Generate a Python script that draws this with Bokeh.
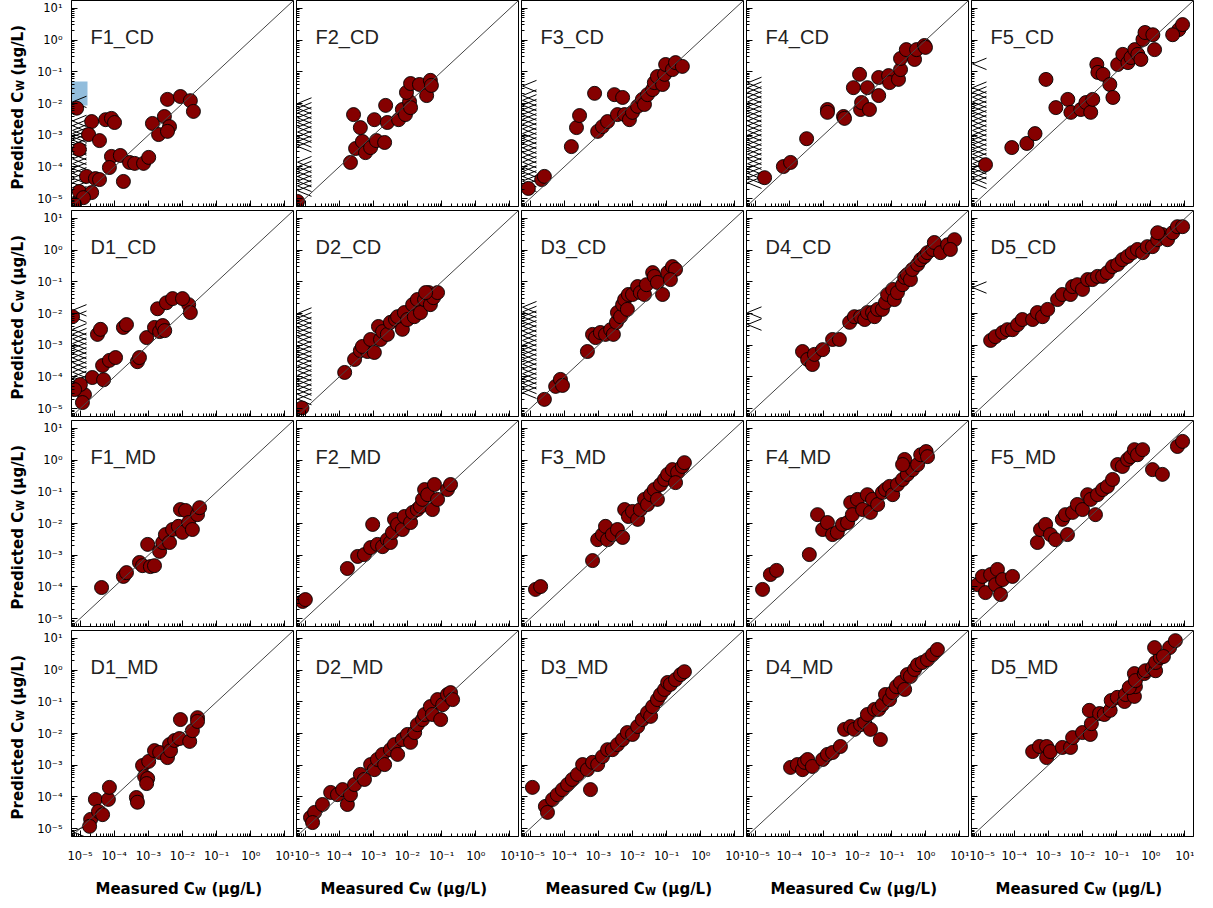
import numpy as np
from bokeh.plotting import figure
from bokeh.layouts import gridplot
from bokeh.models import Range1d, FixedTicker, CustomJSTickFormatter, Label
from bokeh.embed import file_html
from bokeh.resources import INLINE

# ---------------- data (log10 of concentrations, ug/L) ----------------
row_names = [["F1_CD", "F2_CD", "F3_CD", "F4_CD", "F5_CD"],
             ["D1_CD", "D2_CD", "D3_CD", "D4_CD", "D5_CD"],
             ["F1_MD", "F2_MD", "F3_MD", "F4_MD", "F5_MD"],
             ["D1_MD", "D2_MD", "D3_MD", "D4_MD", "D5_MD"]]

major_ticks = [1e-5, 1e-4, 1e-3, 1e-2, 1e-1, 1e0, 1e1]

F1_CD_meas = [-5.10, -4.66, -4.25, -4.08, -3.99, -4.75, -4.43, -5.02, -4.08, -3.82, -4.14, -3.55, -3.40, -3.14, -2.99, -3.73,
              -4.81, -4.55, -4.43, -5.02, -4.66, -4.90, -5.16, -2.88, -2.70, -2.53, -2.44, -2.38, -2.44, -2.06, -1.77, -1.68]
F1_CD_pred = [-2.15, -2.57, -2.51, -2.47, -2.60, -2.98, -3.17, -3.45, -3.67, -3.64, -4.02, -3.86, -3.89, -3.89, -3.70, -4.46,
              -4.30, -4.37, -4.40, -4.78, -4.81, -4.97, -5.19, -2.63, -2.98, -2.41, -1.87, -2.73, -2.88, -1.78, -1.91, -2.25]
F1_CD_cens = [-1.95, -2.55, -2.7, -2.85, -2.95, -3.05, -3.15, -3.3, -3.45, -3.6, -3.75, -3.9, -4.05, -4.2, -4.35, -4.5, -4.65, -4.8, -4.95]

F2_CD_meas = [-3.67, -3.58, -3.38, -3.52, -3.32, -3.23, -3.08, -2.97, -2.91, -2.67, -2.64, -2.59, -2.26, -2.15, -2.06, -1.94,
              -1.91, -2.03, -1.91, -1.65, -1.44, -1.33, -1.30, -5.22]
F2_CD_pred = [-3.86, -2.35, -2.76, -3.42, -3.20, -3.55, -3.39, -2.51, -3.17, -3.23, -2.06, -2.60, -2.51, -2.19, -2.35, -1.94,
              -2.13, -1.65, -1.37, -1.40, -1.75, -1.27, -1.43, -5.09]
F2_CD_cens = [-2.0, -2.15, -2.3, -2.45, -2.6, -2.75, -2.9, -3.05, -3.2, -3.35, -3.85, -4.0, -4.15, -4.3, -4.45, -4.6, -4.75]

F3_CD_meas = [-5.05, -4.66, -4.58, -3.79, -3.64, -3.55, -3.11, -3.02, -2.88, -2.73, -2.53, -2.44, -2.29, -2.23, -2.09, -2.00,
              -1.85, -1.71, -1.65, -1.56, -1.41, -1.36, -1.27, -1.12, -1.06, -1.03, -0.83, -0.74, -0.54]
F3_CD_pred = [-4.68, -4.40, -4.30, -3.36, -2.76, -2.38, -1.68, -2.88, -2.73, -2.57, -1.72, -2.35, -1.81, -2.35, -2.51, -2.28,
              -2.09, -1.87, -2.03, -1.72, -1.56, -1.34, -1.15, -1.40, -1.08, -0.77, -0.93, -0.71, -0.83]
F3_CD_cens = [-1.45, -1.75, -1.9, -2.05, -2.2, -2.35, -2.5, -2.65, -2.8, -2.95, -3.1, -3.25, -3.4, -3.55, -3.7, -3.85, -4.0,
              -4.15, -4.3, -4.45, -4.6]

F4_CD_meas = [-4.72, -4.17, -3.96, -3.49, -2.88, -2.88, -2.41, -2.38, -2.12, -1.94, -1.91, -1.88, -1.71, -1.65, -1.38, -1.38,
              -1.09, -1.06, -0.80, -0.74, -0.74, -0.57, -0.33, -0.27, -0.04, -0.01]
F4_CD_pred = [-4.34, -3.99, -3.86, -3.11, -2.19, -2.28, -2.41, -2.47, -1.50, -1.08, -2.19, -1.97, -1.50, -2.19, -1.75, -1.18,
              -1.12, -1.34, -1.24, -0.93, -0.58, -0.30, -0.61, -0.30, -0.17, -0.23]
F4_CD_cens = [-1.35, -1.5, -1.65, -1.8, -1.95, -2.1, -2.25, -2.4, -2.55, -2.7, -2.85, -3.0, -3.15, -3.3, -3.45, -3.6, -3.75,
              -3.9, -4.05, -4.2, -4.35, -4.5]

F5_CD_meas = [-4.84, -4.07, -3.63, -3.39, -3.07, -2.78, -2.43, -2.34, -2.05, -1.90, -1.76, -1.70, -1.58, -1.55, -1.40, -1.20,
              -1.11, -0.97, -0.82, -0.67, -0.58, -0.47, -0.38, -0.29, -0.23, -0.17, 0.06, 0.11, 0.82, 0.93, 0.64]
F5_CD_pred = [-3.93, -3.39, -3.26, -2.95, -1.24, -2.13, -1.87, -2.28, -2.19, -1.97, -2.28, -1.87, -0.77, -1.02, -1.08, -1.40,
              -1.81, -0.77, -0.45, -0.71, -0.55, -0.30, -0.45, -0.61, 0.02, 0.24, 0.17, -0.30, 0.33, 0.49, 0.17]
F5_CD_cens = [-0.75, -1.5, -1.65, -1.8, -1.95, -2.1, -2.25, -2.4, -2.55, -2.7, -2.85, -3.0, -3.15, -3.3, -3.45, -3.6, -3.75,
              -3.9, -4.05, -4.2, -4.35, -4.5]

D1_CD_meas = [-5.22, -4.49, -4.40, -3.73, -3.64, -4.64, -4.34, -4.14, -3.96, -4.31, -4.87, -4.99, -4.93, -5.16, -3.32, -3.26,
              -3.05, -2.82, -2.67, -2.58, -2.52, -2.73, -2.47, -2.29, -1.82, -1.77, -2.00]
D1_CD_pred = [-2.10, -2.66, -2.50, -2.44, -2.35, -4.02, -3.64, -3.48, -3.39, -4.09, -4.56, -4.24, -4.81, -4.40, -3.52, -3.39,
              -2.76, -2.44, -2.57, -2.38, -2.54, -1.85, -1.66, -1.53, -1.72, -1.97, -1.53]
D1_CD_cens = [-1.9, -2.1, -2.5, -2.65, -2.8, -2.95, -3.1, -3.25, -3.4, -3.55, -3.7, -3.85, -4.0, -4.15, -4.3]

D2_CD_meas = [-5.09, -3.84, -3.55, -3.38, -3.17, -3.32, -3.08, -2.97, -2.85, -2.79, -2.73, -2.59, -2.50, -2.35, -2.29, -2.15,
              -2.09, -2.00, -1.85, -1.80, -1.71, -1.62, -1.50, -1.38, -1.33, -1.24, -1.12, -1.47]
D2_CD_pred = [-4.98, -3.86, -3.45, -3.17, -3.20, -3.04, -2.82, -3.23, -2.41, -2.82, -2.57, -2.66, -2.28, -2.19, -2.10, -2.50,
              -1.97, -2.19, -1.72, -2.10, -1.56, -1.97, -1.56, -1.34, -1.72, -1.50, -1.34, -1.34]
D2_CD_cens = [-2.0, -2.15, -2.3, -2.45, -2.6, -2.75, -2.9, -3.05, -3.2, -3.35, -3.5, -3.65, -3.8, -3.95, -4.1, -4.25, -4.4,
              -4.55, -4.7]

D3_CD_meas = [-4.58, -4.25, -4.11, -4.05, -3.32, -3.17, -3.08, -2.94, -2.79, -2.64, -2.56, -2.47, -2.44, -2.35, -2.29, -2.23,
              -2.15, -2.12, -2.00, -1.85, -1.77, -1.65, -1.59, -1.41, -1.36, -1.27, -1.12, -0.97, -0.83, -0.74, -0.89]
D3_CD_pred = [-4.71, -4.30, -4.08, -4.27, -3.20, -2.66, -2.76, -2.60, -2.66, -2.51, -2.66, -2.28, -1.97, -2.10, -1.72, -1.56,
              -1.87, -1.40, -1.40, -1.15, -1.34, -1.40, -1.09, -0.71, -0.83, -1.02, -1.40, -0.71, -0.52, -0.61, -0.93]
D3_CD_cens = [-1.8, -1.95, -2.1, -2.25, -2.4, -2.55, -2.7, -2.85, -3.0, -3.15, -3.3, -3.45, -3.6, -3.75, -3.9, -4.05, -4.2,
              -4.35, -4.5]

D4_CD_meas = [-3.61, -3.46, -3.32, -3.26, -3.02, -2.73, -2.53, -2.23, -2.09, -1.91, -1.79, -1.71, -1.56, -1.50, -1.41, -1.27,
              -1.18, -1.12, -0.97, -0.92, -0.83, -0.68, -0.62, -0.54, -0.45, -0.39, -0.24, -0.15, -0.04, 0.05, 0.20, 0.25,
              0.43, 0.64, 0.84, 0.72]
D4_CD_pred = [-3.20, -3.45, -3.61, -3.29, -3.14, -2.82, -2.82, -2.28, -2.10, -2.10, -2.19, -1.97, -1.97, -2.10, -1.87, -1.87,
              -1.65, -1.40, -1.24, -1.56, -1.34, -1.09, -0.86, -0.77, -0.93, -0.61, -0.45, -0.30, -0.20, -0.08, 0.02, 0.24,
              -0.08, 0.17, 0.33, 0.02]
D4_CD_cens = [-1.97, -2.35]

D5_CD_meas = [-4.69, -4.55, -4.34, -4.20, -4.05, -3.90, -3.76, -3.46, -3.32, -3.17, -3.02, -2.73, -2.59, -2.35, -2.29, -2.15,
              -2.00, -1.85, -1.71, -1.56, -1.41, -1.27, -1.12, -0.97, -0.83, -0.68, -0.54, -0.39, -0.24, -0.10, 0.05, 0.20,
              0.34, 0.49, 0.64, 0.78, 0.93, 0.20]
D5_CD_pred = [-2.85, -2.73, -2.60, -2.51, -2.51, -2.35, -2.19, -2.19, -1.97, -2.10, -1.87, -1.56, -1.40, -1.40, -1.15, -1.09,
              -1.24, -0.93, -0.93, -0.83, -0.83, -0.71, -0.52, -0.45, -0.30, -0.20, -0.08, 0.02, -0.08, 0.11, 0.11, 0.33,
              0.49, 0.33, 0.55, 0.74, 0.74, 0.55]
D5_CD_cens = [-1.18]

F1_MD_meas = [-4.37, -3.73, -3.64, -3.26, -3.17, -3.02, -2.94, -2.82, -2.67, -2.58, -2.50, -2.38, -2.29, -2.12, -2.06, -1.91,
              -2.00, -1.82, -1.71, -1.56, -1.50]
F1_MD_pred = [-4.02, -3.67, -3.55, -3.23, -3.33, -2.66, -3.36, -3.33, -2.88, -2.60, -2.35, -2.60, -2.19, -2.09, -1.56, -1.59,
              -2.28, -1.97, -2.19, -1.72, -1.50]
F1_MD_cens = []

F2_MD_meas = [-5.07, -4.99, -3.76, -3.46, -3.26, -3.08, -3.02, -2.88, -2.73, -2.59, -2.50, -2.44, -2.38, -2.29, -2.15, -2.09,
              -1.91, -1.85, -1.71, -1.62, -1.56, -1.50, -1.41, -1.27, -1.21, -1.12, -0.83, -0.74]
F2_MD_pred = [-4.46, -4.40, -3.42, -3.04, -2.98, -2.76, -2.03, -2.66, -2.73, -2.51, -2.60, -2.28, -1.87, -2.03, -2.19, -1.78,
              -1.97, -1.65, -1.56, -1.46, -1.24, -0.93, -1.09, -1.56, -0.77, -1.24, -0.93, -0.77]
F2_MD_cens = []

F3_MD_meas = [-4.84, -4.69, -3.17, -3.02, -2.88, -2.79, -2.73, -2.59, -2.44, -2.29, -2.23, -2.12, -2.00, -1.85, -1.77, -1.65,
              -1.56, -1.47, -1.36, -1.27, -1.18, -1.06, -0.97, -0.83, -0.68, -0.54, -0.48, -0.74]
F3_MD_pred = [-4.08, -3.99, -3.17, -2.51, -2.35, -2.09, -2.51, -2.35, -2.19, -2.44, -1.56, -1.78, -1.62, -1.87, -1.56, -1.24,
              -1.40, -1.09, -0.93, -1.24, -0.77, -0.61, -0.45, -0.30, -0.39, -0.20, -0.08, -0.71]
F3_MD_cens = []

F4_MD_meas = [-4.78, -4.55, -4.37, -3.41, -3.17, -3.02, -2.88, -2.73, -2.59, -2.44, -2.29, -2.20, -2.15, -2.00, -1.85, -1.71,
              -1.62, -1.56, -1.41, -1.27, -1.18, -1.06, -0.97, -0.83, -0.68, -0.62, -0.54, -0.39, -0.24, -0.15, 0.01, 0.05, -0.68]
F4_MD_pred = [-4.08, -3.61, -3.48, -2.98, -1.72, -2.19, -1.97, -2.35, -2.28, -2.03, -1.97, -1.34, -1.72, -1.24, -1.56, -1.09,
              -1.65, -1.24, -1.40, -1.02, -0.93, -0.83, -1.09, -0.77, -0.61, 0.02, -0.45, -0.30, -0.14, 0.17, 0.27, 0.11, -0.14]
F4_MD_cens = []

F5_MD_meas = [-5.07, -4.93, -4.84, -4.69, -4.55, -4.40, -4.49, -4.34, -4.05, -3.32, -3.23, -3.08, -2.94, -2.79, -2.59, -2.50,
              -2.44, -2.29, -2.15, -2.00, -1.85, -1.76, -1.62, -1.56, -1.41, -1.27, -1.12, -0.97, -0.83, -0.68, -0.59, -0.48,
              -0.39, -0.24, 0.05, 0.34, 0.78, 0.93]
F5_MD_pred = [-3.93, -3.67, -4.18, -3.61, -3.93, -4.24, -3.45, -3.77, -3.67, -2.60, -2.19, -2.03, -2.35, -2.51, -1.87, -1.72,
              -2.35, -1.65, -1.40, -1.56, -1.09, -1.24, -1.72, -1.09, -0.93, -0.83, -0.61, -0.14, -0.20, 0.02, 0.11, 0.33,
              0.17, 0.33, -0.30, -0.45, 0.43, 0.59]
F5_MD_cens = []

D1_MD_meas = [-4.69, -4.72, -4.55, -4.46, -4.34, -4.17, -4.14, -3.35, -3.32, -3.17, -3.11, -3.02, -3.05, -2.99, -2.82, -2.67,
              -2.44, -2.38, -2.35, -2.23, -2.09, -2.06, -1.79, -1.71, -1.56, -1.56]
D1_MD_pred = [-4.71, -4.93, -4.08, -4.46, -4.56, -4.08, -3.70, -4.02, -4.17, -3.01, -3.36, -3.42, -3.58, -2.88, -2.54, -2.60,
              -2.76, -2.35, -2.54, -2.22, -2.16, -1.56, -2.25, -1.91, -1.50, -1.62]
D1_MD_cens = [-5.1]

D2_MD_meas = [-4.84, -4.72, -4.78, -4.49, -4.25, -4.05, -3.90, -3.76, -3.67, -3.55, -3.38, -3.26, -3.08, -2.97, -2.88, -2.73,
              -2.67, -2.50, -2.38, -2.29, -2.15, -2.00, -1.91, -1.79, -1.71, -1.56, -1.50, -1.33, -1.27, -1.12, -0.97, -0.83,
              -0.74, -0.68, -1.03]
D2_MD_pred = [-4.65, -4.49, -4.81, -4.24, -3.86, -3.93, -3.77, -4.24, -3.93, -3.61, -3.29, -3.45, -2.98, -3.14, -2.82, -2.66,
              -2.98, -2.51, -2.35, -2.66, -2.19, -2.03, -2.28, -1.97, -1.72, -1.56, -1.40, -1.15, -1.40, -0.93, -1.09, -0.77,
              -0.71, -0.93, -1.56]
D2_MD_cens = []

D3_MD_meas = [-4.93, -4.55, -4.49, -4.34, -4.20, -4.05, -3.90, -3.76, -3.61, -3.46, -3.32, -3.23, -3.17, -3.02, -2.88, -2.73,
              -2.59, -2.44, -2.29, -2.15, -2.00, -1.85, -1.71, -1.56, -1.47, -1.41, -1.27, -1.18, -1.06, -0.97, -0.89, -0.74,
              -0.59, -0.48]
D3_MD_pred = [-3.70, -4.30, -4.49, -4.08, -3.93, -3.77, -3.61, -3.45, -3.29, -2.98, -3.14, -3.77, -2.91, -2.98, -2.73, -2.51,
              -2.51, -2.35, -2.19, -1.97, -2.03, -1.78, -1.56, -1.34, -1.46, -1.15, -0.93, -0.77, -0.61, -0.39, -0.45, -0.30,
              -0.14, -0.05]
D3_MD_cens = []

D4_MD_meas = [-3.96, -3.76, -3.61, -3.55, -3.46, -3.32, -3.02, -2.88, -2.73, -2.50, -2.38, -2.20, -2.09, -1.91, -1.79, -1.71,
              -1.62, -1.50, -1.38, -1.27, -1.18, -1.06, -0.97, -0.86, -0.74, -0.62, -0.54, -0.45, -0.33, -0.24, -0.10, 0.05,
              0.20, 0.34, -1.33]
D4_MD_pred = [-3.07, -2.98, -3.14, -2.91, -2.82, -3.04, -2.82, -2.66, -2.60, -2.41, -1.87, -1.78, -1.87, -1.72, -1.65, -1.40,
              -1.87, -1.24, -1.24, -1.09, -0.77, -0.93, -0.71, -0.52, -0.39, -0.61, -0.14, -0.20, 0.02, 0.17, 0.24, 0.33,
              0.49, 0.65, -2.19]
D4_MD_cens = []

D5_MD_meas = [-3.46, -3.26, -3.05, -3.05, -2.94, -2.59, -2.35, -2.29, -2.00, -1.77, -1.74, -1.80, -1.50, -1.36, -1.19, -1.16,
              -0.98, -0.77, -0.74, -0.48, -0.45, -0.63, -0.48, -0.45, -0.19, -0.16, 0.05, 0.14, 0.14, 0.28, 0.11, 0.55, 0.72, 0.37]
D5_MD_pred = [-2.57, -2.41, -2.41, -2.76, -2.57, -2.44, -2.44, -2.13, -1.97, -2.03, -1.69, -1.27, -1.37, -1.40, -1.27, -0.96,
              -0.86, -0.99, -0.77, -0.83, -0.52, -0.55, -0.11, -0.33, -0.11, -0.02, 0.08, -0.02, 0.24, 0.40, 0.71, 0.71, 0.93, 0.43]
D5_MD_cens = []

panel_data = {
    "F1_CD": (F1_CD_meas, F1_CD_pred, F1_CD_cens), "F2_CD": (F2_CD_meas, F2_CD_pred, F2_CD_cens),
    "F3_CD": (F3_CD_meas, F3_CD_pred, F3_CD_cens), "F4_CD": (F4_CD_meas, F4_CD_pred, F4_CD_cens),
    "F5_CD": (F5_CD_meas, F5_CD_pred, F5_CD_cens),
    "D1_CD": (D1_CD_meas, D1_CD_pred, D1_CD_cens), "D2_CD": (D2_CD_meas, D2_CD_pred, D2_CD_cens),
    "D3_CD": (D3_CD_meas, D3_CD_pred, D3_CD_cens), "D4_CD": (D4_CD_meas, D4_CD_pred, D4_CD_cens),
    "D5_CD": (D5_CD_meas, D5_CD_pred, D5_CD_cens),
    "F1_MD": (F1_MD_meas, F1_MD_pred, F1_MD_cens), "F2_MD": (F2_MD_meas, F2_MD_pred, F2_MD_cens),
    "F3_MD": (F3_MD_meas, F3_MD_pred, F3_MD_cens), "F4_MD": (F4_MD_meas, F4_MD_pred, F4_MD_cens),
    "F5_MD": (F5_MD_meas, F5_MD_pred, F5_MD_cens),
    "D1_MD": (D1_MD_meas, D1_MD_pred, D1_MD_cens), "D2_MD": (D2_MD_meas, D2_MD_pred, D2_MD_cens),
    "D3_MD": (D3_MD_meas, D3_MD_pred, D3_MD_cens), "D4_MD": (D4_MD_meas, D4_MD_pred, D4_MD_cens),
    "D5_MD": (D5_MD_meas, D5_MD_pred, D5_MD_cens),
}

# ---------------- layout / style ----------------
LMIN, LMAX = -5.25, 1.25
FW, FH = 222, 206
PX_X = FW / (LMAX - LMIN)
PX_Y = FH / (LMAX - LMIN)
MID = (LMIN + LMAX) / 2
POINT_FILL = "#850000"
TITLE_FONT = "DejaVu Sans"
TITLE_W = 34          # width of the strip holding the y-axis titles
TITLE_H = 30          # height of the strip holding the x-axis titles
COL0_LEFT = 37        # left border of the first panel column (tick labels)
minor_ticks = [m * 10.0 ** k for k in range(-6, 2) for m in range(2, 10)]

tick_fmt_code = """
const sup = {"-": "\\u207b", "0": "\\u2070", "1": "\\u00b9", "2": "\\u00b2", "3": "\\u00b3",
             "4": "\\u2074", "5": "\\u2075", "6": "\\u2076", "7": "\\u2077", "8": "\\u2078", "9": "\\u2079"};
const e = Math.round(Math.log10(tick));
return "10" + String(e).split("").map(ch => sup[ch]).join("");
"""


def xpos(dx):
    return 10 ** (MID + dx / PX_X)


def ypos(dy):
    return 10 ** (MID + dy / PX_Y)


def title_label(text, x, y, size, angle=0.0):
    return Label(x=x, y=y, text=text, angle=angle,
                 text_font=TITLE_FONT, text_font_style="bold", text_font_size=size,
                 text_align="left", text_baseline="alphabetic", text_color="black")


def strip_fig(w, h, fw, fh, left=0, right=0, top=0, bottom=0):
    # blank figure whose frame (fw x fh) lines up with the neighbouring panels' frames
    f = figure(width=w, height=h, x_range=Range1d(0, fw), y_range=Range1d(0, fh),
               x_axis_location=None, y_axis_location=None,
               output_backend="svg", toolbar_location=None,
               min_border_left=left, min_border_right=right, min_border_top=top, min_border_bottom=bottom)
    f.outline_line_color = None
    f.grid.visible = False
    f.background_fill_color = "white"
    f.border_fill_color = "white"
    return f


grid_rows = []
for r in range(4):
    bottom = 32 if r == 3 else 4
    # left strip with the y-axis title of this row
    lt = strip_fig(TITLE_W, FH + bottom, TITLE_W, FH, bottom=bottom)
    cy = FH / 2
    lt.add_layout(title_label("Predicted C", 17, cy - 86, "15px", np.pi / 2))
    lt.add_layout(title_label("W", 20, cy + 12.5, "10px", np.pi / 2))
    lt.add_layout(title_label("(\u03bcg/L)", 17, cy + 28, "15px", np.pi / 2))
    row = [lt]
    for c in range(5):
        name = row_names[r][c]
        left = COL0_LEFT if c == 0 else 2
        p = figure(width=left + FW + 1, height=FH + bottom,
                   x_axis_type="log", y_axis_type="log",
                   x_range=Range1d(10 ** LMIN, 10 ** LMAX), y_range=Range1d(10 ** LMIN, 10 ** LMAX),
                   output_backend="svg", toolbar_location=None,
                   min_border_left=left, min_border_right=1, min_border_top=0, min_border_bottom=bottom)
        p.background_fill_color = "white"
        p.border_fill_color = "white"
        p.outline_line_color = "black"
        p.outline_line_width = 1
        p.grid.visible = False
        for ax in (p.xaxis[0], p.yaxis[0]):
            ax.ticker = FixedTicker(ticks=major_ticks, minor_ticks=minor_ticks)
            ax.formatter = CustomJSTickFormatter(code=tick_fmt_code)
            ax.major_tick_in = 6
            ax.major_tick_out = 0
            ax.minor_tick_in = 3
            ax.minor_tick_out = 0
            ax.axis_line_color = "black"
            ax.major_tick_line_color = "black"
            ax.minor_tick_line_color = "black"
            ax.major_label_text_font = "DejaVu Sans"
            ax.major_label_text_color = "black"
            ax.major_label_text_font_size = "11.5px"
        if c != 0:
            p.yaxis.major_label_text_font_size = "1px"
            p.yaxis.major_label_text_alpha = 0
            p.yaxis.major_label_standoff = 0
        else:
            p.yaxis.major_label_standoff = 9
        if r != 3:
            p.xaxis.major_label_text_font_size = "1px"
            p.xaxis.major_label_text_alpha = 0
            p.xaxis.major_label_standoff = 0
        else:
            p.xaxis.major_label_standoff = 12

        meas, pred, cens = panel_data[name]
        if name == "F1_CD":
            p.quad(left=xpos(-112), right=xpos(-95), bottom=ypos(-2), top=ypos(22),
                   fill_color="#86b6d8", line_color=None, fill_alpha=0.9)
        if cens:
            xs = [[xpos(-96), xpos(-110), xpos(-96)] for _ in cens]
            ys = [[10 ** (v + 0.18), 10 ** v, 10 ** (v - 0.18)] for v in cens]
            p.multi_line(xs, ys, line_color="black", line_width=1)
        p.scatter(10 ** np.array(meas), 10 ** np.array(pred), size=14, marker="circle",
                  fill_color=POINT_FILL, line_color="black", line_width=1, line_alpha=0.9)
        p.line([10 ** (LMIN - 1), 10 ** (LMAX + 1)], [10 ** (LMIN - 1), 10 ** (LMAX + 1)],
               line_color="#444444", line_width=1)

        p.add_layout(Label(x=xpos(-92), y=ypos(66.5), text=name, text_font="Liberation Sans",
                           text_font_size="20px", text_color="#222222", text_baseline="alphabetic"))
        row.append(p)
    grid_rows.append(row)

# bottom strip with the x-axis titles
bottom_row = [None]
for c in range(5):
    left = COL0_LEFT if c == 0 else 2
    bt = strip_fig(left + FW + 1, TITLE_H, FW, TITLE_H, left=left, right=1)
    cx = FW / 2
    bt.add_layout(title_label("Measured C", cx - 87, 10, "15px"))
    bt.add_layout(title_label("W", cx + 12.5, 7, "10px"))
    bt.add_layout(title_label("(\u03bcg/L)", cx + 29, 10, "15px"))
    bottom_row.append(bt)
grid_rows.append(bottom_row)

grid = gridplot(grid_rows, toolbar_location=None)
open("out.html", "w").write(file_html(grid, INLINE))
